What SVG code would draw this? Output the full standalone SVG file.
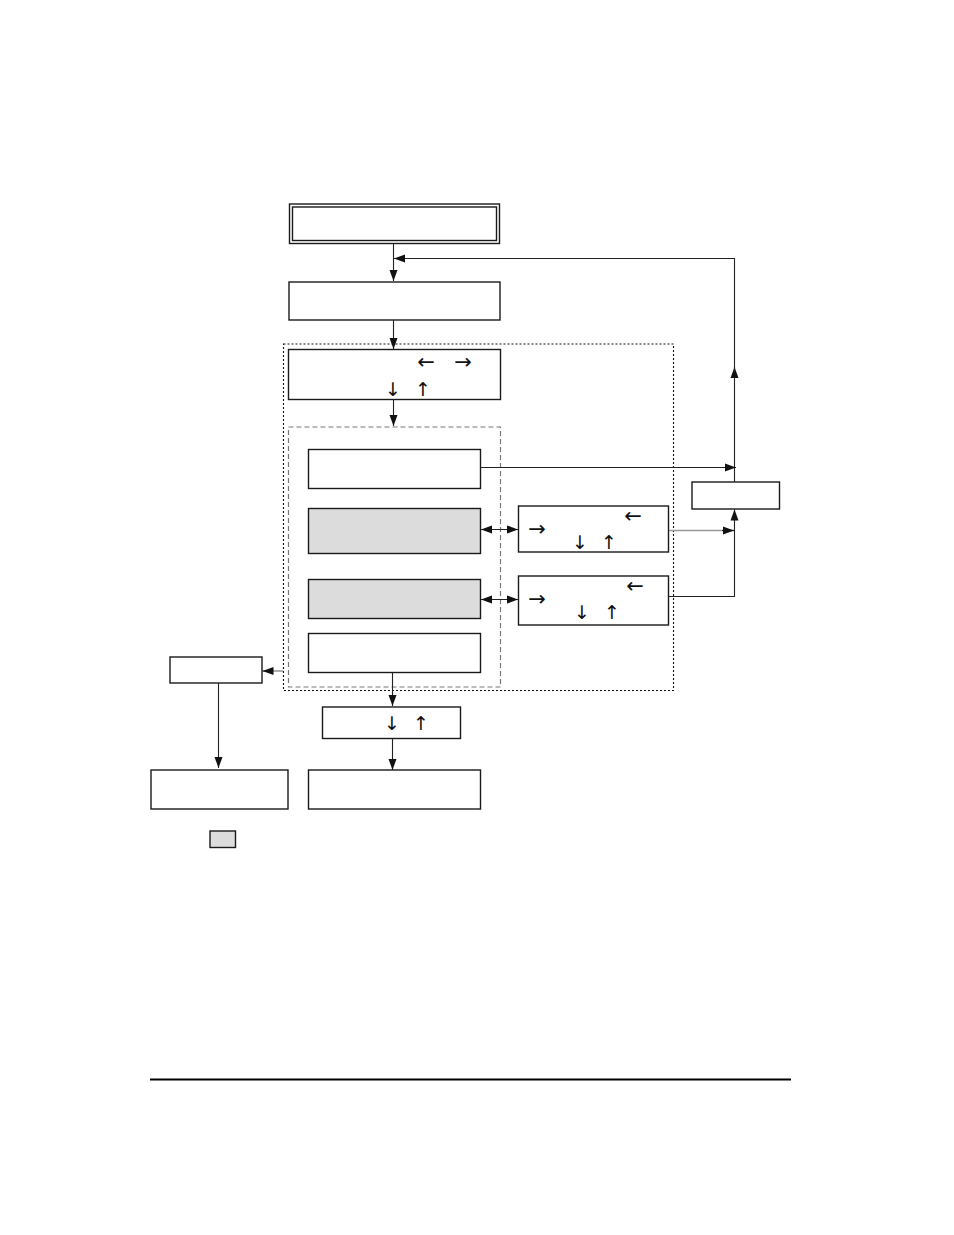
<svg xmlns="http://www.w3.org/2000/svg" width="954" height="1235" viewBox="0 0 954 1235">
<style>
.box{fill:#fff;stroke:#1a1a1a;stroke-width:1.4}
.grey{fill:#dcdcdc;stroke:#1a1a1a;stroke-width:1.4}
.c{fill:none;stroke:#222;stroke-width:1.1}
.cg{fill:none;stroke:#999;stroke-width:1.6}
.ar{font-family:"DejaVu Sans",sans-serif;font-size:21px;fill:#111;text-anchor:middle;dominant-baseline:central}
.av{font-family:"DejaVu Sans",sans-serif;font-size:19px;fill:#111;text-anchor:middle;dominant-baseline:central}
</style>
<defs>
<marker id="a" markerUnits="userSpaceOnUse" markerWidth="12" markerHeight="10" refX="11" refY="5" orient="auto-start-reverse" viewBox="0 0 12 10">
<path d="M0,1 L11,5 L0,9 Z" fill="#111"/>
</marker>
</defs>
<rect width="954" height="1235" fill="#fff"/>
<g id="regions">
<rect x="283.5" y="344" width="390" height="346.5" fill="none" stroke="#111" stroke-width="1.1" stroke-dasharray="2,2"/>
<rect x="288.5" y="427" width="212" height="260" fill="none" stroke="#777" stroke-width="1.2" stroke-dasharray="5,3"/>
</g>
<g id="n1"><rect x="289.5" y="204" width="210" height="39.5" class="box" stroke-width="1.6"/><rect x="292.5" y="207" width="204" height="33.5" class="box"/></g>
<g id="n2"><rect x="289" y="282" width="211" height="38" class="box"/></g>
<g id="n3"><rect x="288.5" y="349.5" width="212" height="50" class="box" stroke-width="1.6"/>
<text class="ar" x="426" y="362">←</text><text class="ar" x="463" y="362">→</text>
<text class="av" x="393" y="389">↓</text><text class="av" x="423" y="389">↑</text></g>
<g id="nA"><rect x="308.5" y="449.5" width="172" height="39" class="box"/></g>
<g id="nB"><rect x="308.5" y="508.5" width="172" height="45" class="grey"/></g>
<g id="nC"><rect x="308.5" y="579.5" width="172" height="39" class="grey"/></g>
<g id="nD"><rect x="308.5" y="633.5" width="172" height="39" class="box"/></g>
<g id="nF"><rect x="518.5" y="506" width="150" height="46" class="box"/>
<text class="ar" x="537" y="529">→</text><text class="ar" x="633" y="516">←</text>
<text class="av" x="580" y="542">↓</text><text class="av" x="609" y="542">↑</text></g>
<g id="nG"><rect x="518.5" y="576" width="150" height="49" class="box"/>
<text class="ar" x="537" y="599">→</text><text class="ar" x="635" y="586">←</text>
<text class="av" x="582" y="612">↓</text><text class="av" x="612" y="612">↑</text></g>
<g id="nE"><rect x="692" y="482" width="87.5" height="27" class="box" stroke="#444" stroke-width="1.6"/></g>
<g id="nH"><rect x="170" y="657" width="92" height="26" class="box"/></g>
<g id="nI"><rect x="151" y="770" width="137" height="39" class="box" stroke="#777"/></g>
<g id="nJ"><rect x="322.5" y="707" width="138" height="31.5" class="box"/>
<text class="av" x="392" y="723">↓</text><text class="av" x="421" y="723">↑</text></g>
<g id="nK"><rect x="308.5" y="770" width="172" height="39" class="box"/></g>
<g id="legend"><rect x="210" y="831" width="25.5" height="16.5" class="grey"/></g>
<g id="connectors">
<path class="c" d="M393.5,243.5 V281" marker-end="url(#a)"/>
<path class="c" stroke="#666" d="M734.5,482 V367" marker-end="url(#a)"/>
<path class="c" d="M734.5,372 V258.5 H394" marker-end="url(#a)"/>
<path class="c" d="M393.5,320 V349" marker-end="url(#a)"/>
<path class="c" d="M393.5,399.5 V426" marker-end="url(#a)"/>
<path class="c" d="M480.5,467.5 H736" marker-end="url(#a)"/>
<path class="c" d="M481,529.5 H518" marker-start="url(#a)" marker-end="url(#a)"/>
<path class="c" d="M481,599.5 H518" marker-start="url(#a)" marker-end="url(#a)"/>
<path class="cg" d="M669,530.5 H734"/>
<path class="c" d="M722,530.5 H734" marker-end="url(#a)"/>
<path class="c" d="M669,596.5 H734.5 V509.5" marker-end="url(#a)"/>
<path class="cg" d="M283,671 H266"/>
<path class="c" d="M272,671 H262.5" marker-end="url(#a)"/>
<path class="c" stroke="#666" d="M218.5,683 V768" marker-end="url(#a)"/>
<path class="c" d="M392.5,672.5 V706" marker-end="url(#a)"/>
<path class="c" d="M392.5,738.5 V770" marker-end="url(#a)"/>
</g>
<line x1="150" y1="1079.5" x2="791" y2="1079.5" stroke="#000" stroke-width="2.2"/>
</svg>
